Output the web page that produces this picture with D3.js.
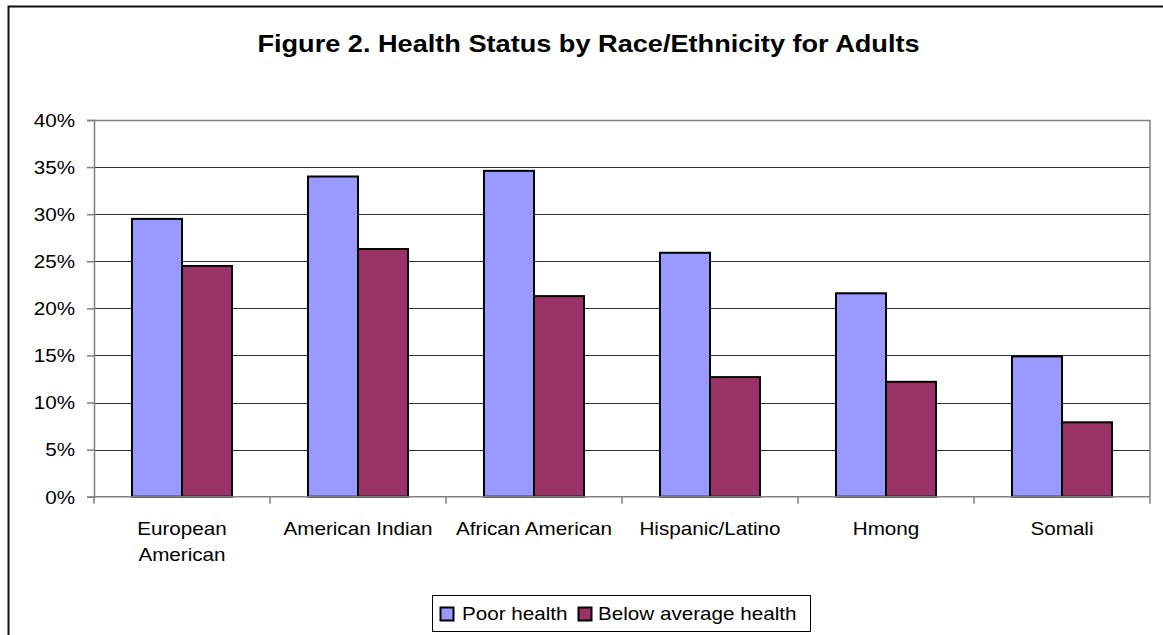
<!DOCTYPE html>
<html>
<head>
<meta charset="utf-8">
<script src="https://cdn.jsdelivr.net/npm/d3@7"></script>
<style>
  html, body { margin: 0; padding: 0; background: #fff; }
  svg { display: block; }
  text { font-family: Arial, "Liberation Sans", sans-serif; fill: #000; }
</style>
</head>
<body>
<svg id="chart" width="1163" height="635"></svg>
<script>
// Categories and series values (percent of adults)
const categories = ["European American", "American Indian", "African American", "Hispanic/Latino", "Hmong", "Somali"];
const categoryLines = [["European", "American"], ["American Indian"], ["African American"], ["Hispanic/Latino"], ["Hmong"], ["Somali"]];
const seriesNames = ["Poor health", "Below average health"];
const poorHealth = [29.5, 34.0, 34.6, 25.9, 21.6, 14.9];
const belowAverageHealth = [24.5, 26.3, 21.3, 12.7, 12.2, 7.9];
const yTicks = [0, 5, 10, 15, 20, 25, 30, 35, 40];
const seriesColors = ["#9999FF", "#993366"];

const title = "Figure 2. Health Status by Race/Ethnicity for Adults";
const sx = 1.18; // horizontal text stretch

const svg = d3.select("#chart");

// outer chart frame
svg.append("rect")
  .attr("x", 8.5).attr("y", 6.5)
  .attr("width", 1200).attr("height", 700)
  .attr("fill", "#fff").attr("stroke", "#111").attr("stroke-width", 2);

const plot = { left: 94, right: 1150, top: 120, bottom: 496.7 };

const x0 = d3.scaleBand().domain(categories).range([plot.left, plot.right]).padding(0);
const x1 = d3.scaleBand().domain(seriesNames).range([0, x0.bandwidth()]).paddingInner(0).paddingOuter(0.76);
const y = d3.scaleLinear().domain([0, 40]).range([plot.bottom, plot.top]);

function stretchedText(sel, x, yy, str, size, anchor, weight) {
  return sel.append("text")
    .attr("transform", `translate(${x},${yy}) scale(${sx},1)`)
    .attr("text-anchor", anchor)
    .attr("font-size", size)
    .attr("font-weight", weight || "normal")
    .text(str);
}

// title
stretchedText(svg, 588.5, 52, title, 23, "middle", "bold");

// gridlines
svg.append("g")
  .selectAll("line")
  .data(yTicks.filter(d => d > 0))
  .join("line")
  .attr("x1", plot.left).attr("x2", plot.right)
  .attr("y1", d => Math.round(y(d)) + 0.5).attr("y2", d => Math.round(y(d)) + 0.5)
  .attr("stroke", d => d === 40 ? "#808080" : "#333")
  .attr("stroke-width", d => d === 40 ? 1.5 : 1);

// plot border right side
svg.append("line")
  .attr("x1", plot.right).attr("x2", plot.right)
  .attr("y1", plot.top).attr("y2", plot.bottom)
  .attr("stroke", "#808080").attr("stroke-width", 1.5);

// y axis
const yAxis = d3.axisLeft(y).tickValues(yTicks).tickSize(7).tickFormat(d => d + "%");
const gy = svg.append("g").attr("transform", `translate(${plot.left},0)`).call(yAxis);
gy.select(".domain").attr("stroke", "#808080").attr("stroke-width", 1.5);
gy.selectAll(".tick line").attr("stroke", "#808080").attr("stroke-width", 1.5);
gy.selectAll(".tick text").remove();
gy.selectAll(".tick").each(function(d) {
  stretchedText(d3.select(this), -19, 6.3, d + "%", 17.5, "end");
});

// bars
const groups = svg.append("g")
  .selectAll("g")
  .data(categories.map((c, i) => ({ c, vals: [poorHealth[i], belowAverageHealth[i]] })))
  .join("g")
  .attr("transform", d => `translate(${x0(d.c)},0)`);

groups.selectAll("rect")
  .data(d => d.vals.map((v, j) => ({ name: seriesNames[j], v, j })))
  .join("rect")
  .attr("x", d => x1(d.name))
  .attr("y", d => y(d.v))
  .attr("width", x1.bandwidth())
  .attr("height", d => y(0) - y(d.v))
  .attr("fill", d => seriesColors[d.j])
  .attr("stroke", "#000")
  .attr("stroke-width", 2);

// x axis line and boundary ticks
const xb = d3.scaleLinear().domain([0, categories.length]).range([plot.left, plot.right]);
const gx = svg.append("g").attr("transform", `translate(0,${plot.bottom})`);
gx.append("line")
  .attr("x1", plot.left).attr("x2", plot.right)
  .attr("y1", 0).attr("y2", 0)
  .attr("stroke", "#808080").attr("stroke-width", 1.5);
gx.selectAll("line.tk")
  .data(d3.range(categories.length + 1))
  .join("line")
  .attr("class", "tk")
  .attr("x1", d => xb(d)).attr("x2", d => xb(d))
  .attr("y1", 0).attr("y2", 7)
  .attr("stroke", "#808080").attr("stroke-width", 1.5);

// category labels
categories.forEach((c, i) => {
  const cx = x0(c) + x0.bandwidth() / 2;
  categoryLines[i].forEach((line, k) => {
    stretchedText(svg, cx, 534.5 + k * 26.5, line, 17.5, "middle");
  });
});

// legend
const legend = svg.append("g");
legend.append("rect")
  .attr("x", 432.5).attr("y", 595.5).attr("width", 378).attr("height", 36)
  .attr("fill", "#fff").attr("stroke", "#000").attr("stroke-width", 1);
const legendItems = [{ sw: 440, tx: 462 }, { sw: 578, tx: 598 }];
seriesNames.forEach((name, j) => {
  legend.append("rect")
    .attr("x", legendItems[j].sw + 0.5).attr("y", 607.5)
    .attr("width", 13).attr("height", 13)
    .attr("fill", seriesColors[j]).attr("stroke", "#000").attr("stroke-width", 2);
  stretchedText(legend, legendItems[j].tx, 620, name, 17.5, "start");
});
</script>
</body>
</html>
